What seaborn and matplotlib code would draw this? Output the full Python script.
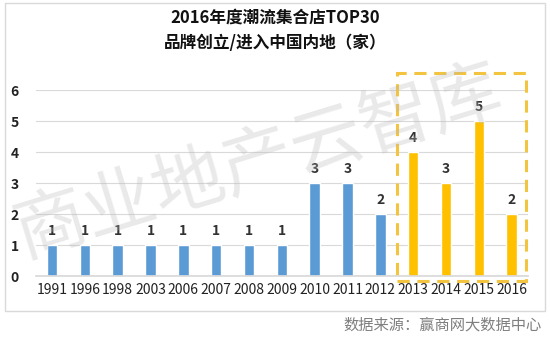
import matplotlib
matplotlib.use("Agg")
import matplotlib.pyplot as plt
import seaborn as sns
import pandas as pd
from matplotlib.patches import Rectangle

years = ["1991", "1996", "1998", "2003", "2006", "2007", "2008", "2009",
         "2010", "2011", "2012", "2013", "2014", "2015", "2016"]
counts = [1, 1, 1, 1, 1, 1, 1, 1, 3, 3, 2, 4, 3, 5, 2]
highlight_from = "2013"
title_lines = ["2016年度潮流集合店TOP30", "品牌创立/进入中国内地（家）"]
source_text = "数据来源：赢商网大数据中心"
watermark = "商业地产云智库"

BLUE = "#5B9BD5"
GOLD = "#FFC000"

sns.set_theme(style="white")
plt.rcParams["font.family"] = ["Noto Sans CJK SC", "DejaVu Sans"]

df = pd.DataFrame({"year": years, "count": counts})
hi_idx = years.index(highlight_from)
palette = {y: (GOLD if i >= hi_idx else BLUE) for i, y in enumerate(years)}

fig = plt.figure(figsize=(5.5, 3.39), dpi=100)
ax = fig.add_axes([0.0647, 0.1858, 0.8953, 0.5487])

sns.barplot(data=df, x="year", y="count", hue="year", palette=palette,
            width=0.32, legend=False, ax=ax, saturation=1)

ax.set_xlim(-0.5, len(years) - 0.5)
ax.set_ylim(0, 6)
ax.set_yticks(range(0, 7))
ax.grid(axis="y", color="#D9D9D9", linewidth=0.8)
ax.set_axisbelow(True)
for s in ["top", "right", "left"]:
    ax.spines[s].set_visible(False)
ax.spines["bottom"].set_color("#D9D9D9")
ax.set_xlabel("")
ax.set_ylabel("")
ax.tick_params(axis="y", length=0, pad=12, labelsize=10)
ax.tick_params(axis="x", length=0, pad=5, labelsize=10)
for lab in ax.get_yticklabels():
    lab.set_fontweight("bold")
    lab.set_color("#222222")
for lab in ax.get_xticklabels():
    lab.set_color("#222222")

for c in ax.containers:
    ax.bar_label(c, padding=5, fontsize=10, fontweight="bold", color="#333333")

# dashed highlight box
box = Rectangle((hi_idx - 0.5, -0.16), len(years) - hi_idx - 0.06, 6.71,
                fill=False, edgecolor="#F2C440", linewidth=2.2,
                linestyle=(0, (4, 2.5)), clip_on=False, zorder=5)
ax.add_patch(box)

# watermark
fig.text(0.47, 0.52, watermark, fontsize=52, color="#B8B8B8", alpha=0.3,
         rotation=17, ha="center", va="center", fontweight="medium", zorder=0)

# titles
fig.text(0.5, 0.948, title_lines[0], ha="center", va="center",
         fontsize=12, fontweight="bold", color="#111111")
fig.text(0.5, 0.873, title_lines[1], ha="center", va="center",
         fontsize=12, fontweight="bold", color="#111111")

# source
fig.text(0.985, 0.04, source_text, ha="right", va="center",
         fontsize=11, color="#7F7F7F")

# outer border
fig.add_artist(Rectangle((5 / 550, 1 - 311 / 339), 540 / 550, 308 / 339,
                         transform=fig.transFigure, fill=False,
                         edgecolor="#D9D9D9", linewidth=1))

fig.savefig("out.png", dpi=100)
